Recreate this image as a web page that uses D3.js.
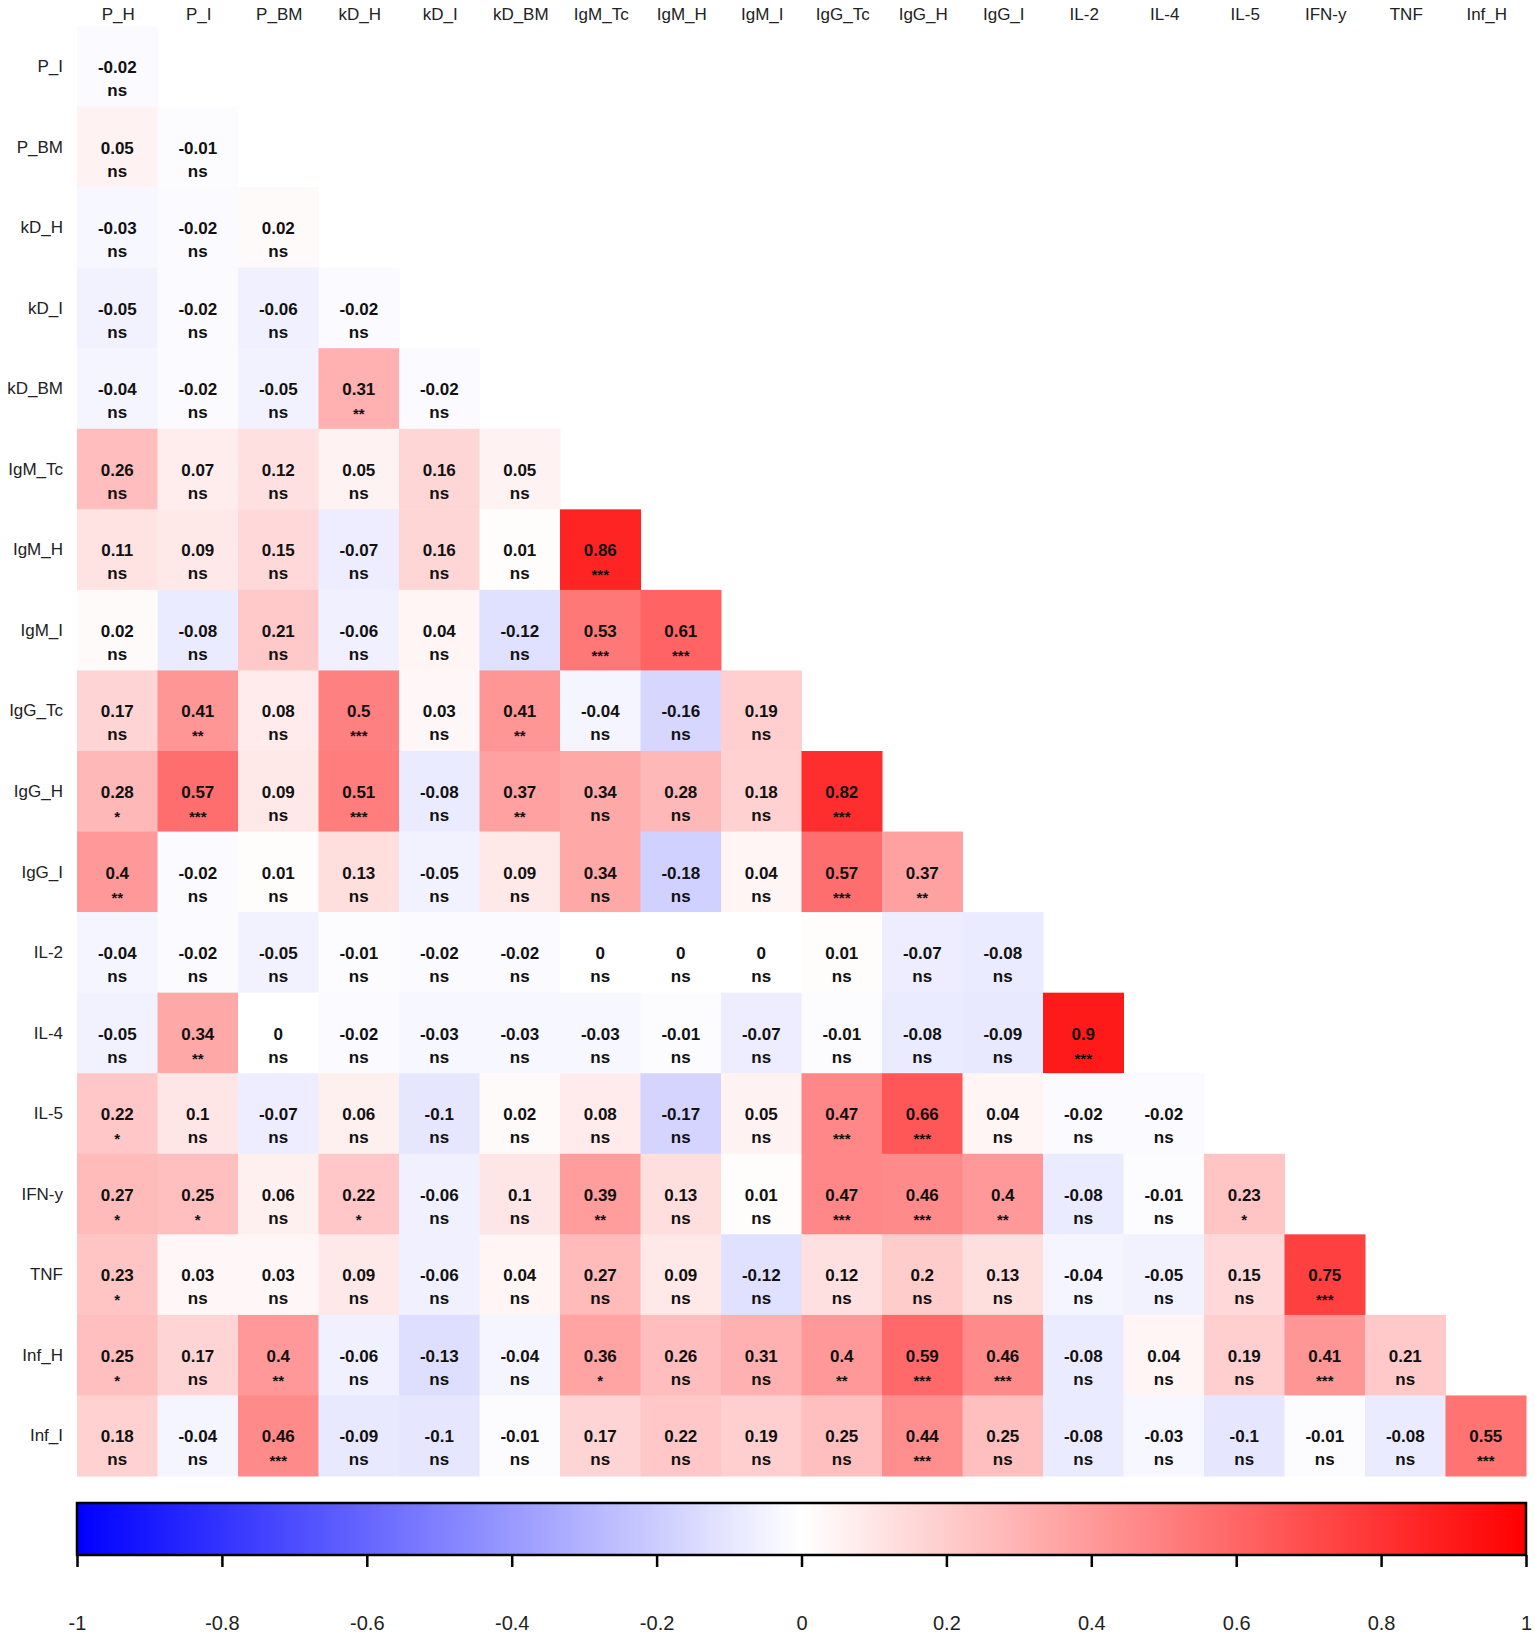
<!DOCTYPE html>
<html>
<head>
<meta charset="utf-8">
<script src="https://cdn.jsdelivr.net/npm/d3@7"></script>
<style>
  body { margin: 0; background: #fff; }
  svg { display: block; font-family: "Liberation Sans", Arial, sans-serif; }
</style>
</head>
<body>
<svg id="chart" width="1535" height="1637"></svg>
<script>
// column / row variables
var colNames = ["P_H","P_I","P_BM","kD_H","kD_I","kD_BM","IgM_Tc","IgM_H","IgM_I",
                "IgG_Tc","IgG_H","IgG_I","IL-2","IL-4","IL-5","IFN-y","TNF","Inf_H"];
var rowNames = ["P_I","P_BM","kD_H","kD_I","kD_BM","IgM_Tc","IgM_H","IgM_I","IgG_Tc",
                "IgG_H","IgG_I","IL-2","IL-4","IL-5","IFN-y","TNF","Inf_H","Inf_I"];

// lower triangle, one row per rowNames entry
var corr = [
  [-0.02],
  [0.05, -0.01],
  [-0.03, -0.02, 0.02],
  [-0.05, -0.02, -0.06, -0.02],
  [-0.04, -0.02, -0.05, 0.31, -0.02],
  [0.26, 0.07, 0.12, 0.05, 0.16, 0.05],
  [0.11, 0.09, 0.15, -0.07, 0.16, 0.01, 0.86],
  [0.02, -0.08, 0.21, -0.06, 0.04, -0.12, 0.53, 0.61],
  [0.17, 0.41, 0.08, 0.5, 0.03, 0.41, -0.04, -0.16, 0.19],
  [0.28, 0.57, 0.09, 0.51, -0.08, 0.37, 0.34, 0.28, 0.18, 0.82],
  [0.4, -0.02, 0.01, 0.13, -0.05, 0.09, 0.34, -0.18, 0.04, 0.57, 0.37],
  [-0.04, -0.02, -0.05, -0.01, -0.02, -0.02, 0, 0, 0, 0.01, -0.07, -0.08],
  [-0.05, 0.34, 0, -0.02, -0.03, -0.03, -0.03, -0.01, -0.07, -0.01, -0.08, -0.09, 0.9],
  [0.22, 0.1, -0.07, 0.06, -0.1, 0.02, 0.08, -0.17, 0.05, 0.47, 0.66, 0.04, -0.02, -0.02],
  [0.27, 0.25, 0.06, 0.22, -0.06, 0.1, 0.39, 0.13, 0.01, 0.47, 0.46, 0.4, -0.08, -0.01, 0.23],
  [0.23, 0.03, 0.03, 0.09, -0.06, 0.04, 0.27, 0.09, -0.12, 0.12, 0.2, 0.13, -0.04, -0.05, 0.15, 0.75],
  [0.25, 0.17, 0.4, -0.06, -0.13, -0.04, 0.36, 0.26, 0.31, 0.4, 0.59, 0.46, -0.08, 0.04, 0.19, 0.41, 0.21],
  [0.18, -0.04, 0.46, -0.09, -0.1, -0.01, 0.17, 0.22, 0.19, 0.25, 0.44, 0.25, -0.08, -0.03, -0.1, -0.01, -0.08, 0.55]
];

var sig = [
  ["ns"],
  ["ns","ns"],
  ["ns","ns","ns"],
  ["ns","ns","ns","ns"],
  ["ns","ns","ns","**","ns"],
  ["ns","ns","ns","ns","ns","ns"],
  ["ns","ns","ns","ns","ns","ns","***"],
  ["ns","ns","ns","ns","ns","ns","***","***"],
  ["ns","**","ns","***","ns","**","ns","ns","ns"],
  ["*","***","ns","***","ns","**","ns","ns","ns","***"],
  ["**","ns","ns","ns","ns","ns","ns","ns","ns","***","**"],
  ["ns","ns","ns","ns","ns","ns","ns","ns","ns","ns","ns","ns"],
  ["ns","**","ns","ns","ns","ns","ns","ns","ns","ns","ns","ns","***"],
  ["*","ns","ns","ns","ns","ns","ns","ns","ns","***","***","ns","ns","ns"],
  ["*","*","ns","*","ns","ns","**","ns","ns","***","***","**","ns","ns","*"],
  ["*","ns","ns","ns","ns","ns","ns","ns","ns","ns","ns","ns","ns","ns","ns","***"],
  ["*","ns","**","ns","ns","ns","*","ns","ns","**","***","***","ns","ns","ns","***","ns"],
  ["ns","ns","***","ns","ns","ns","ns","ns","ns","ns","***","ns","ns","ns","ns","ns","ns","***"]
];

var legendTicks = [-1, -0.8, -0.6, -0.4, -0.2, 0, 0.2, 0.4, 0.6, 0.8, 1];

var svg = d3.select("#chart");

var x = d3.scaleBand().domain(colNames).range([77, 1526]);
var y = d3.scaleBand().domain(rowNames).range([26, 1476]);
var color = d3.scaleLinear().domain([-1, 0, 1]).range(["#0000ff", "#ffffff", "#ff0000"]);

// flatten
var cells = [];
corr.forEach(function (row, i) {
  row.forEach(function (v, j) {
    cells.push({row: rowNames[i], col: colNames[j], value: v, sig: sig[i][j]});
  });
});

var cell = svg.append("g").selectAll("g")
  .data(cells)
  .enter().append("g")
  .attr("transform", function (d) { return "translate(" + x(d.col) + "," + y(d.row) + ")"; });

cell.append("rect")
  .attr("width", x.bandwidth() + 0.5)
  .attr("height", y.bandwidth() + 0.5)
  .attr("fill", function (d) { return color(d.value); });

cell.append("text")
  .attr("x", x.bandwidth() / 2)
  .attr("y", 47)
  .attr("text-anchor", "middle")
  .attr("font-size", 17)
  .attr("font-weight", "bold")
  .attr("fill", "#111")
  .text(function (d) { return String(d.value); });

cell.append("text")
  .attr("x", x.bandwidth() / 2)
  .attr("y", function (d) { return d.sig == "ns" ? 70 : 71; })
  .attr("text-anchor", "middle")
  .attr("font-size", function (d) { return d.sig == "ns" ? 17 : 15; })
  .attr("font-weight", "bold")
  .attr("fill", "#111")
  .text(function (d) { return d.sig; });

// column labels
svg.append("g").selectAll("text")
  .data(colNames)
  .enter().append("text")
  .attr("x", function (d) { return x(d) + x.bandwidth() / 2 + 1; })
  .attr("y", 20)
  .attr("text-anchor", "middle")
  .attr("font-size", 17)
  .attr("fill", "#222")
  .text(function (d) { return d; });

// row labels
svg.append("g").selectAll("text")
  .data(rowNames)
  .enter().append("text")
  .attr("x", 63)
  .attr("y", function (d) { return y(d) + 46; })
  .attr("text-anchor", "end")
  .attr("font-size", 17)
  .attr("fill", "#222")
  .text(function (d) { return d; });

// colour bar
var lx = d3.scaleLinear().domain([-1, 1]).range([77, 1526]);
var barTop = 1503, barH = 52;

var grad = svg.append("defs").append("linearGradient")
  .attr("id", "bar")
  .attr("x1", "0%").attr("x2", "100%").attr("y1", "0%").attr("y2", "0%");
grad.selectAll("stop")
  .data(d3.range(-1, 1.001, 0.1))
  .enter().append("stop")
  .attr("offset", function (d) { return ((d + 1) / 2 * 100) + "%"; })
  .attr("stop-color", function (d) { return color(d); });

svg.append("rect")
  .attr("x", lx(-1)).attr("y", barTop)
  .attr("width", lx(1) - lx(-1)).attr("height", barH)
  .attr("fill", "url(#bar)")
  .attr("stroke", "#000")
  .attr("stroke-width", 2.5);

var axis = d3.axisBottom(lx)
  .tickValues(legendTicks)
  .tickSize(12)
  .tickPadding(49)
  .tickFormat(function (d) { return String(+d.toFixed(1)); });

var ax = svg.append("g")
  .attr("transform", "translate(0," + (barTop + barH) + ")")
  .call(axis);
ax.select(".domain").remove();
ax.selectAll(".tick line").attr("stroke", "#000").attr("stroke-width", 2.5);
ax.selectAll(".tick text")
  .attr("font-size", 20)
  .attr("font-family", "\"Liberation Sans\", Arial, sans-serif")
  .attr("fill", "#222");
</script>
</body>
</html>
